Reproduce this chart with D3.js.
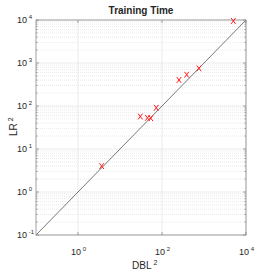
<!doctype html>
<html>
<head>
<meta charset="UTF-8">
<title>Training Time</title>
<script src="https://d3js.org/d3.v7.min.js"></script>
<style>
  body { margin: 0; background: #fff; }
  svg text { font-family: "Liberation Sans Narrow", "Arial Narrow", "Liberation Sans", Arial, sans-serif; fill: #262626; }
</style>
</head>
<body>
<div id="chart"></div>
<script>
// training time, DBL^2 vs LR^2
var dblTime = [5000, 760, 387, 254, 73, 30.5, 45, 54, 3.66];
var lrTime  = [9500, 750, 535, 403, 91, 57, 53, 52, 4.0];
var xTickVals = [1, 100, 10000];
var yTickVals = [0.1, 1, 10, 100, 1000, 10000];
var exps = {0.1: "-1", 1: "0", 10: "1", 100: "2", 1000: "3", 10000: "4"};

var W = 273, H = 273;
var margin = {left: 36, top: 20, right: 27, bottom: 38};

var svg = d3.select("#chart").append("svg")
    .attr("width", W).attr("height", H);

var x = d3.scaleLog().domain([0.1, 10000]).range([margin.left, W - margin.right]);
var y = d3.scaleLog().domain([0.1, 10000]).range([H - margin.bottom, margin.top]);

// minor values for each decade
var minors = [];
for (var e = -1; e < 4; e++) {
  for (var m = 2; m <= 9; m++) minors.push(m * Math.pow(10, e));
}

var g = svg.append("g");

// minor horizontal grid (dotted)
g.selectAll(".ygridm").data(minors).enter().append("line")
  .attr("x1", x.range()[0]).attr("x2", x.range()[1])
  .attr("y1", d => y(d)).attr("y2", d => y(d))
  .attr("stroke", "#e4e4e4").attr("stroke-width", 0.8)
  .attr("stroke-dasharray", "1,1");

// major grids
g.selectAll(".ygrid").data(yTickVals).enter().append("line")
  .attr("x1", x.range()[0]).attr("x2", x.range()[1])
  .attr("y1", d => y(d)).attr("y2", d => y(d))
  .attr("stroke", "#e6e6e6").attr("stroke-width", 0.8);
g.selectAll(".xgrid").data(xTickVals).enter().append("line")
  .attr("y1", y.range()[0]).attr("y2", y.range()[1])
  .attr("x1", d => x(d)).attr("x2", d => x(d))
  .attr("stroke", "#e6e6e6").attr("stroke-width", 0.8);

// diagonal
g.append("line")
  .attr("x1", x(0.1)).attr("y1", y(0.1))
  .attr("x2", x(10000)).attr("y2", y(10000))
  .attr("stroke", "#555").attr("stroke-width", 0.8);

// axes box
var axCol = "#8a8a8a";
var x0 = x.range()[0], x1 = x.range()[1], y0 = y.range()[0], y1 = y.range()[1];
g.append("rect").attr("x", x0).attr("y", y1).attr("width", x1 - x0).attr("height", y0 - y1)
  .attr("fill", "none").attr("stroke", axCol).attr("stroke-width", 0.8);

// ticks on y (left + right), major and minor
g.selectAll(".ytk").data(yTickVals).enter().append("path")
  .attr("d", d => "M" + x0 + "," + y(d) + "h3M" + x1 + "," + y(d) + "h-3")
  .attr("stroke", axCol).attr("stroke-width", 0.8);
g.selectAll(".ytkm").data(minors).enter().append("path")
  .attr("d", d => "M" + x0 + "," + y(d) + "h1.5M" + x1 + "," + y(d) + "h-1.5")
  .attr("stroke", axCol).attr("stroke-width", 0.8);
g.selectAll(".xtk").data(xTickVals).enter().append("path")
  .attr("d", d => "M" + x(d) + "," + y0 + "v-3M" + x(d) + "," + y1 + "v3")
  .attr("stroke", axCol).attr("stroke-width", 0.8);

// tick labels
function powLabel(sel, v) {
  sel.append("tspan").text("10").attr("font-size", 9);
  sel.append("tspan").text(" " + exps[v]).attr("font-size", 6).attr("dy", -4);
}
yTickVals.forEach(function(v) {
  var t = svg.append("text").attr("x", 17).attr("y", y(v) + 3);
  powLabel(t, v);
});
xTickVals.forEach(function(v) {
  var t = svg.append("text").attr("x", x(v) - 7).attr("y", y0 + 20);
  powLabel(t, v);
});

// axis labels
var xl = svg.append("text").attr("x", 132).attr("y", 269);
xl.append("tspan").text("DBL").attr("font-size", 10);
xl.append("tspan").text(" 2").attr("font-size", 7).attr("dy", -4);

var yl = svg.append("text").attr("transform", "translate(17,136) rotate(-90)");
yl.append("tspan").text("LR").attr("font-size", 10);
yl.append("tspan").text(" 2").attr("font-size", 7).attr("dy", -4);

// title
svg.append("text").attr("x", (x0 + x1) / 2).attr("y", 14)
  .attr("text-anchor", "middle").attr("font-size", 10).attr("font-weight", "bold")
  .text("Training Time");

// markers
var pts = dblTime.map((d, i) => [d, lrTime[i]]);
var sx = 2.2, sy = 2.9;
g.selectAll(".pt").data(pts).enter().append("path")
  .attr("d", d => {
    var px = x(d[0]), py = y(d[1]);
    return "M" + (px - sx) + "," + (py - sy) + "L" + (px + sx) + "," + (py + sy) +
           "M" + (px - sx) + "," + (py + sy) + "L" + (px + sx) + "," + (py - sy);
  })
  .attr("stroke", "#ff1a1a").attr("stroke-width", 1).attr("fill", "none");
</script>
</body>
</html>
